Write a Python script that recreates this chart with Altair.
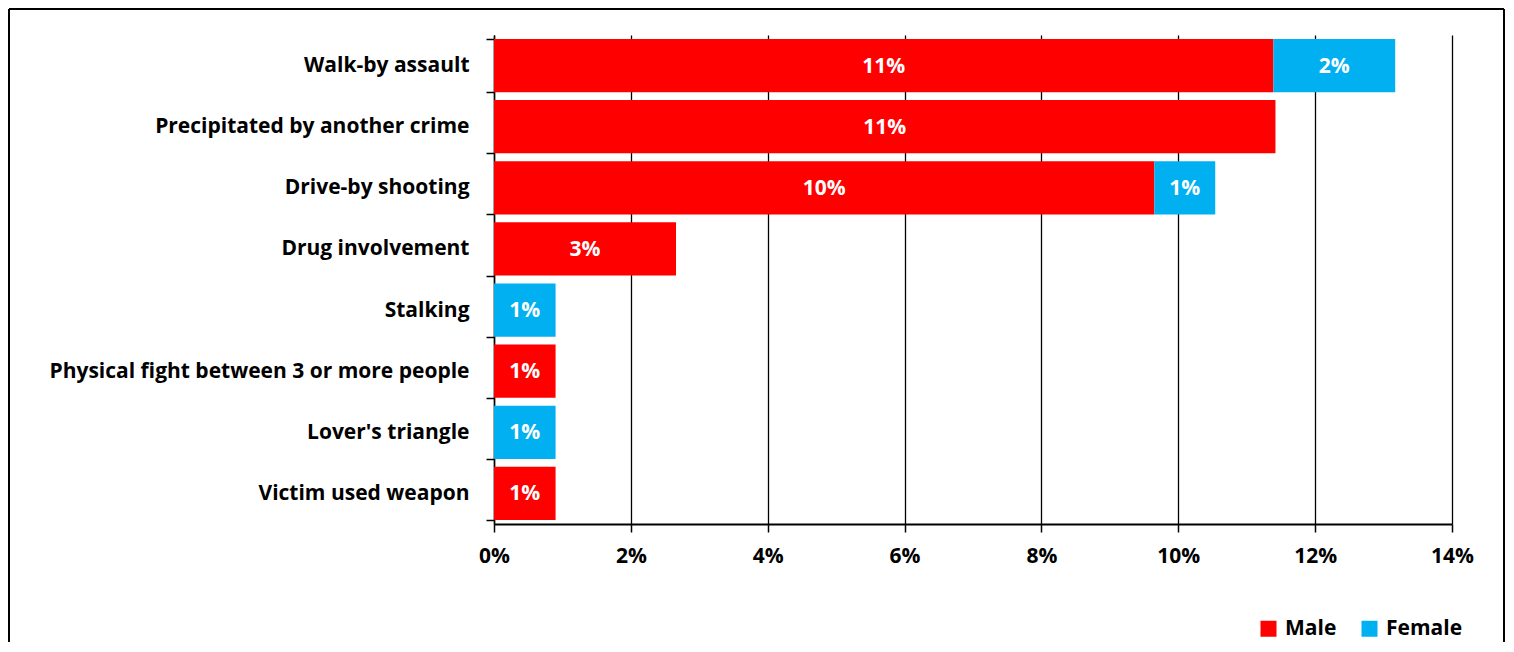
import altair as alt
import pandas as pd

categories = [
    "Walk-by assault",
    "Precipitated by another crime",
    "Drive-by shooting",
    "Drug involvement",
    "Stalking",
    "Physical fight between 3 or more people",
    "Lover's triangle",
    "Victim used weapon",
]
male = [11.39, 11.42, 9.65, 2.66, 0.0, 0.90, 0.0, 0.90]
female = [1.78, 0.0, 0.89, 0.0, 0.90, 0.0, 0.90, 0.0]
series = ["Male", "Female"]
colors = ["#FF0000", "#00B0F0"]
x_ticks = [0, 2, 4, 6, 8, 10, 12, 14]

rows = []
for c, m, f in zip(categories, male, female):
    start = 0.0
    for s, v in (("Male", m), ("Female", f)):
        if v > 0:
            rows.append(dict(cat=c, series=s, start=start, end=start + v,
                             mid=start + v / 2, label=f"{round(v)}%"))
        start += v
df = pd.DataFrame(rows)

FONT = "Open Sans"

y_enc = alt.Y(
    "cat:N", sort=categories,
    scale=alt.Scale(paddingInner=0.13, paddingOuter=0.065),
    axis=alt.Axis(title=None, tickBand="extent", tickSize=8, tickColor="black",
                  tickWidth=1.5, domainColor="black", domainWidth=1.5,
                  labelFontSize=21, labelFont=FONT, labelFontWeight="bold",
                  labelColor="black", labelPadding=17, labelLimit=0,
                  grid=False),
)
x_enc = alt.X(
    "start:Q",
    scale=alt.Scale(domain=[0, 14], nice=False),
    axis=alt.Axis(title=None, values=x_ticks, labelExpr="datum.value + '%'",
                  grid=True, gridColor="black", gridWidth=1.3,
                  domainColor="black", domainWidth=2, tickColor="black",
                  tickSize=8, tickWidth=1.5, labelFontSize=21, labelFont=FONT,
                  labelFontWeight="bold", labelColor="black", labelPadding=13,
                  labelFlush=False, labelOverlap=False),
)

bars = alt.Chart(df).mark_bar().encode(
    y=y_enc,
    x=x_enc,
    x2="end:Q",
    color=alt.Color(
        "series:N",
        scale=alt.Scale(domain=series, range=colors),
        legend=alt.Legend(orient="none", legendX=764, legendY=583,
                          direction="horizontal", title=None,
                          symbolType="square", symbolSize=256,
                          symbolStrokeWidth=0, labelFontSize=21,
                          labelFont=FONT, labelFontWeight="bold",
                          labelColor="black", columnPadding=22,
                          labelOffset=6),
    ),
)

labels = alt.Chart(df).mark_text(
    color="white", fontSize=21, fontWeight="bold", font=FONT, dy=1
).encode(
    y=alt.Y("cat:N", sort=categories),
    x=alt.X("mid:Q"),
    text="label:N",
)

one = pd.DataFrame({"a": [0]})
frame_left = alt.Chart(one).mark_rule(color="black", strokeWidth=2).encode(
    x=alt.value(-485), y=alt.value(-26), y2=alt.value(607))
frame_top = alt.Chart(one).mark_rule(color="black", strokeWidth=2).encode(
    x=alt.value(-485), x2=alt.value(1010), y=alt.value(-26))
frame_right = alt.Chart(one).mark_rule(color="black", strokeWidth=2).encode(
    x=alt.value(1010), y=alt.value(-26), y2=alt.value(607))

chart = alt.layer(bars, labels, frame_left, frame_top, frame_right).properties(
    width=958, height=489, padding=0, background="white"
).configure_view(stroke=None)

chart.save("out.html", embed_options={"renderer": "svg", "actions": False})
